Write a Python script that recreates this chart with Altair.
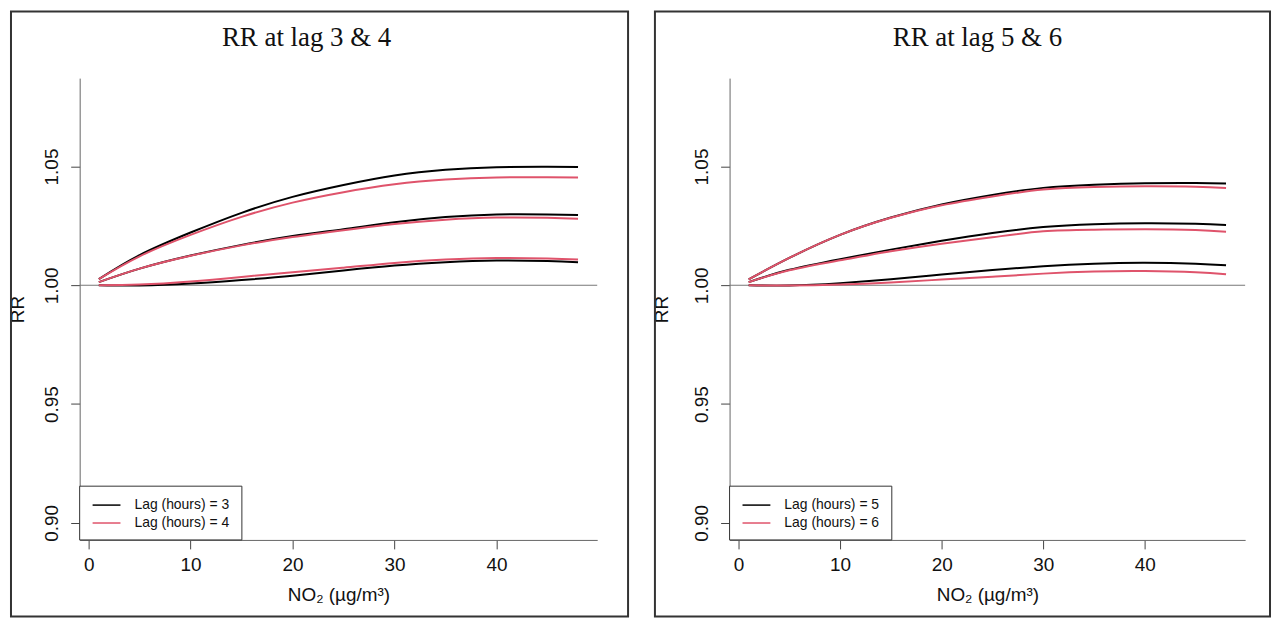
import pandas as pd
import altair as alt

# NO2 values (µg/m3) at which the curves were read
no2 = [1, 5, 10, 15, 20, 25, 30, 35, 40, 45, 48]

# RR at lag 3 & 4 -- lower bound, estimate, upper bound
lag3_low = [1.0000, 0.9999, 1.0007, 1.0022, 1.0040, 1.0062, 1.0083, 1.0097, 1.0104, 1.0102, 1.0097]
lag3_rr = [1.0013, 1.0070, 1.0125, 1.0170, 1.0207, 1.0236, 1.0265, 1.0287, 1.0298, 1.0298, 1.0296]
lag3_up = [1.0026, 1.0127, 1.0222, 1.0305, 1.0372, 1.0422, 1.0462, 1.0486, 1.0497, 1.0499, 1.0498]
lag4_low = [1.0000, 1.0003, 1.0016, 1.0035, 1.0055, 1.0074, 1.0094, 1.0108, 1.0115, 1.0113, 1.0108]
lag4_rr = [1.0013, 1.0070, 1.0124, 1.0168, 1.0203, 1.0232, 1.0258, 1.0276, 1.0285, 1.0284, 1.0280]
lag4_up = [1.0026, 1.0122, 1.0212, 1.0288, 1.0348, 1.0392, 1.0425, 1.0445, 1.0454, 1.0455, 1.0454]

# RR at lag 5 & 6
lag5_low = [1.0000, 0.9999, 1.0009, 1.0025, 1.0045, 1.0064, 1.0080, 1.0091, 1.0095, 1.0091, 1.0084]
lag5_rr = [1.0013, 1.0065, 1.0110, 1.0150, 1.0187, 1.0220, 1.0245, 1.0257, 1.0261, 1.0259, 1.0254]
lag5_up = [1.0025, 1.0115, 1.0212, 1.0285, 1.0340, 1.0380, 1.0410, 1.0423, 1.0429, 1.0430, 1.0428]
lag6_low = [1.0000, 0.9999, 1.0003, 1.0012, 1.0024, 1.0036, 1.0049, 1.0058, 1.0060, 1.0055, 1.0046]
lag6_rr = [1.0013, 1.0063, 1.0105, 1.0143, 1.0175, 1.0202, 1.0227, 1.0234, 1.0236, 1.0233, 1.0225]
lag6_up = [1.0025, 1.0115, 1.0212, 1.0284, 1.0337, 1.0374, 1.0403, 1.0414, 1.0417, 1.0415, 1.0409]

colours = ["#000000", "#DF536B"]
y_ticks = [0.90, 0.95, 1.00, 1.05]
x_ticks = [0, 10, 20, 30, 40]

W, H = 520, 464
sans = "Liberation Sans"


def panel_data(lags, curves):
    rows = []
    for lag, bands, colour in zip(lags, curves, colours):
        for band, values in zip(["low", "rr", "up"], bands):
            for x, v in zip(no2, values):
                rows.append({"no2": x, "rr": v, "series": f"{lag}-{band}", "colour": colour})
    return pd.DataFrame(rows)


def panel(lags, curves, title, title_x, frame_x, frame_x2, rr_x, width):
    df = panel_data(lags, curves)
    x_scale = alt.Scale(domain=[-0.88, 49.88], nice=False, zero=False)
    y_scale = alt.Scale(domain=[0.8928, 1.0872], nice=False, zero=False)
    one = pd.DataFrame({"a": [0]})

    frame = alt.Chart(one).mark_rect(
        fill="white", fillOpacity=0, stroke="#333333", strokeWidth=2
    ).encode(x=alt.value(frame_x), x2=alt.value(frame_x2), y=alt.value(-67), y2=alt.value(541))

    ref = alt.Chart(one).mark_rule(color="#777777", strokeWidth=1.2).encode(y=alt.datum(1.0, scale=y_scale))

    lines = alt.Chart(df).mark_line(strokeWidth=2, interpolate="natural").encode(
        x=alt.X("no2:Q", scale=x_scale, title="NO₂ (µg/m³)",
                axis=alt.Axis(values=x_ticks, grid=False, tickSize=9, tickColor="#444444",
                              domainColor="#666666", labelFont=sans, labelFontSize=19,
                              labelColor="#111111", labelPadding=7, labelFlush=False,
                              titleFont=sans, titleFontSize=19, titleFontWeight="normal",
                              titleColor="#111111", titlePadding=11)),
        y=alt.Y("rr:Q", scale=y_scale, title="RR",
                axis=alt.Axis(values=y_ticks, format=".2f", grid=False, tickSize=9,
                              tickColor="#444444", domainColor="#666666", labelFont=sans,
                              labelFontSize=19, labelColor="#111111", labelAngle=270,
                              labelAlign="center", labelBaseline="alphabetic",
                              labelPadding=13, labelFlush=False, titleFont=sans,
                              titleFontSize=19, titleFontWeight="normal", titleColor="#111111",
                              titleAngle=270, titleAlign="center", titleBaseline="alphabetic",
                              titleX=rr_x, titleY=H / 2)),
        color=alt.Color("colour:N", scale=None),
        detail="series:N",
    )

    box = alt.Chart(one).mark_rect(fill="white", stroke="#333333", strokeWidth=1).encode(
        x=alt.value(0), x2=alt.value(163), y=alt.value(410), y2=alt.value(464))

    layers = [frame, ref, lines, box]
    for i, (lag, colour) in enumerate(zip(lags, colours)):
        row_y = 429 + i * 18
        layers.append(alt.Chart(one).mark_rule(color=colour, strokeWidth=1.5).encode(
            x=alt.value(13), x2=alt.value(41), y=alt.value(row_y)))
        layers.append(alt.Chart(pd.DataFrame({"t": [f"Lag (hours) = {lag}"]})).mark_text(
            font=sans, fontSize=14, color="#111111", align="left", baseline="middle"
        ).encode(text="t:N", x=alt.value(55), y=alt.value(row_y)))

    layers.append(alt.Chart(pd.DataFrame({"t": [title]})).mark_text(
        font="Liberation Serif", fontSize=27, color="#111111", align="center",
        baseline="alphabetic").encode(text="t:N", x=alt.value(title_x), y=alt.value(-32)))

    return alt.layer(*layers).properties(width=width, height=H)


left = panel([3, 4], [[lag3_low, lag3_rr, lag3_up], [lag4_low, lag4_rr, lag4_up]],
             "RR at lag 3 & 4", 228, -69, 551, -56, W)
right = panel([5, 6], [[lag5_low, lag5_rr, lag5_up], [lag6_low, lag6_rr, lag6_up]],
              "RR at lag 5 & 6", 249, -75, 543, -62, 518)

chart = alt.hconcat(left, right, spacing=22).properties(
    padding=0, background="white"
).configure_view(stroke="transparent")

chart.save("out.html", embed_options={"renderer": "svg", "actions": False})
